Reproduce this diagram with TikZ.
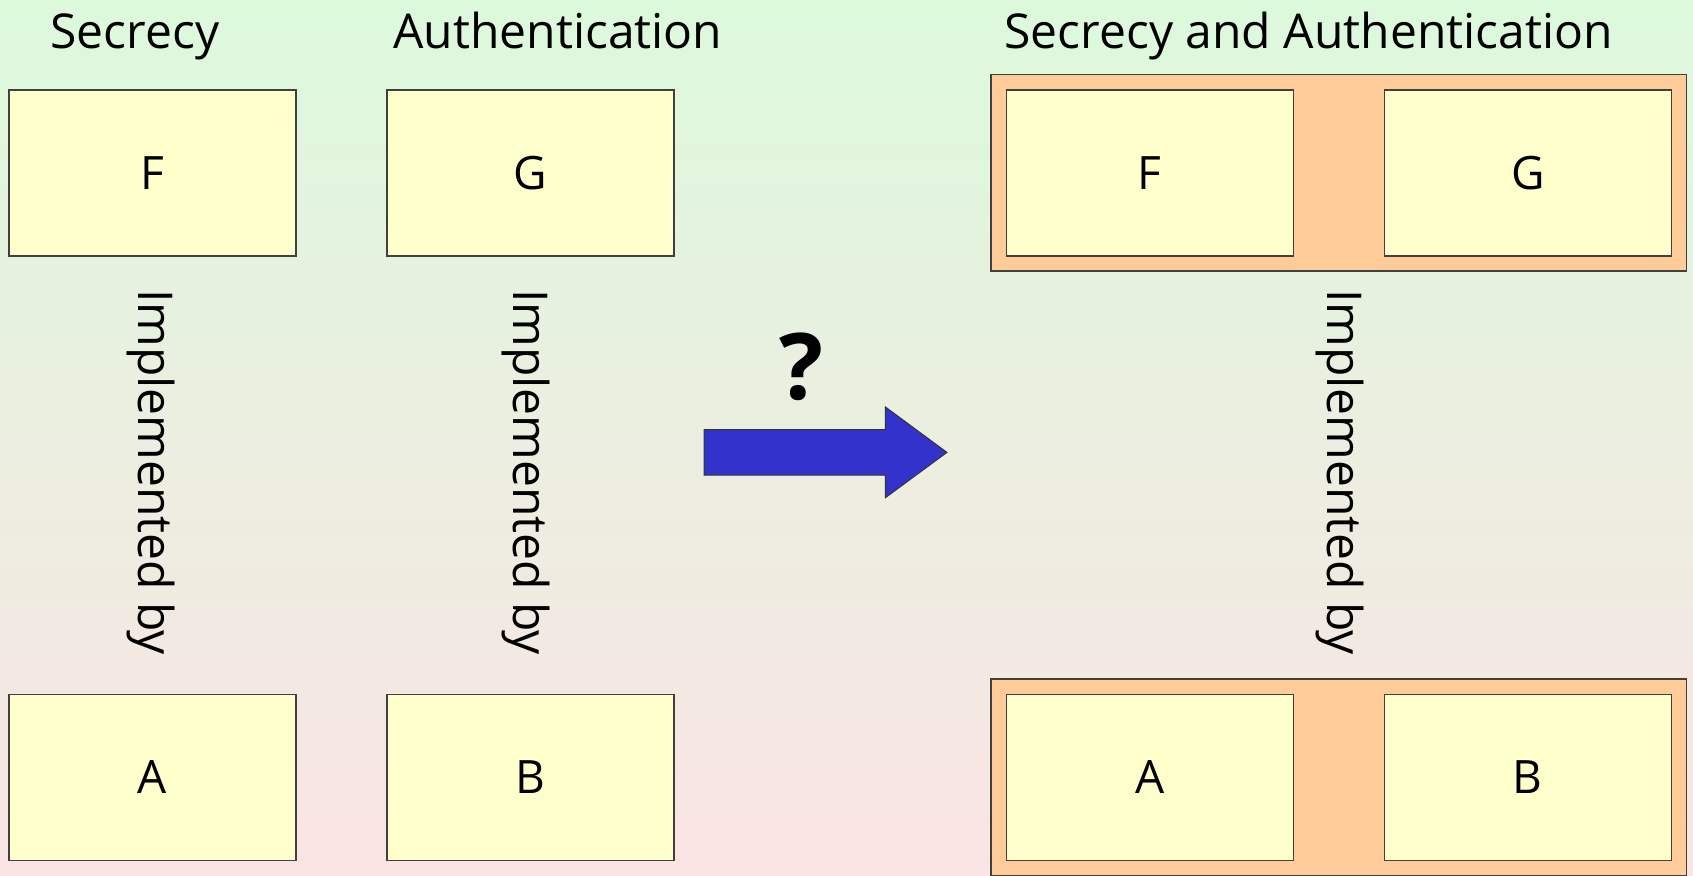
\documentclass[tikz,border=0pt]{standalone}
\usepackage{fontspec}
\setmainfont{Open Sans}
\definecolor{bgtop}{RGB}{220,249,220}
\definecolor{bgbot}{RGB}{250,228,228}
\definecolor{boxfill}{RGB}{255,255,204}
\definecolor{panel}{RGB}{255,204,153}
\definecolor{arrowblue}{RGB}{51,51,204}
\tikzset{
  every node/.style={font=\fontsize{24}{28}\selectfont},
  unit/.style={draw=black!75, line width=0.6pt, fill=boxfill,
    minimum width=143.5pt, minimum height=83pt, inner sep=0pt,
    font=\fontsize{23}{27}\selectfont},
  group/.style={draw=black!75, line width=0.6pt, fill=panel,
    minimum width=347.75pt, minimum height=98.25pt, inner sep=0pt},
  title/.style={anchor=base},
  impl/.style={rotate=-90},
  blockarrow/.style={draw=black!80, line width=0.5pt, fill=arrowblue}
}
\begin{document}
\begin{tikzpicture}[x=0.5pt, y=-0.5pt]
  % page and gradient background
  \useasboundingbox (0,0) rectangle (1693,876);
  \shade[top color=bgtop, bottom color=bgbot] (0,0) rectangle (1693,876);

  % headings
  \node[title] (tsec) at (135,48.6) {Secrecy};
  \node[title] (taut) at (558,48.6) {Authentication};
  \node[title] (tboth) at (1308.6,48.6) {Secrecy and Authentication};

  % separate specifications and implementations
  \node[unit] (F) at (152.5,173) {F};
  \node[unit] (G) at (530.5,173) {G};
  \node[unit] (A) at (152.5,777.5) {A};
  \node[unit] (B) at (530.5,777.5) {B};
  \node[impl] (i1) at (151,472) {Implemented by};
  \node[impl] (i2) at (526,472) {Implemented by};

  % combined side
  \node[group] (top) at (1338.75,172.75) {};
  \node[group] (bot) at (1338.75,777.25) {};
  \node[unit] (F2) at (1149.75,173) {F};
  \node[unit] (G2) at (1527.75,173) {G};
  \node[unit] (A2) at (1149.75,777.5) {A};
  \node[unit] (B2) at (1527.75,777.5) {B};
  \node[impl] (i3) at (1340,472) {Implemented by};

  % the open question
  \node[font=\fontsize{46}{50}\bfseries] (q) at (801,367) {?};
  \draw[blockarrow] (704,429.7) -- (885.4,429.7) -- (885.4,407) -- (946.9,452.4)
    -- (885.4,497.7) -- (885.4,475.1) -- (704,475.1) -- cycle;
\end{tikzpicture}
\end{document}
